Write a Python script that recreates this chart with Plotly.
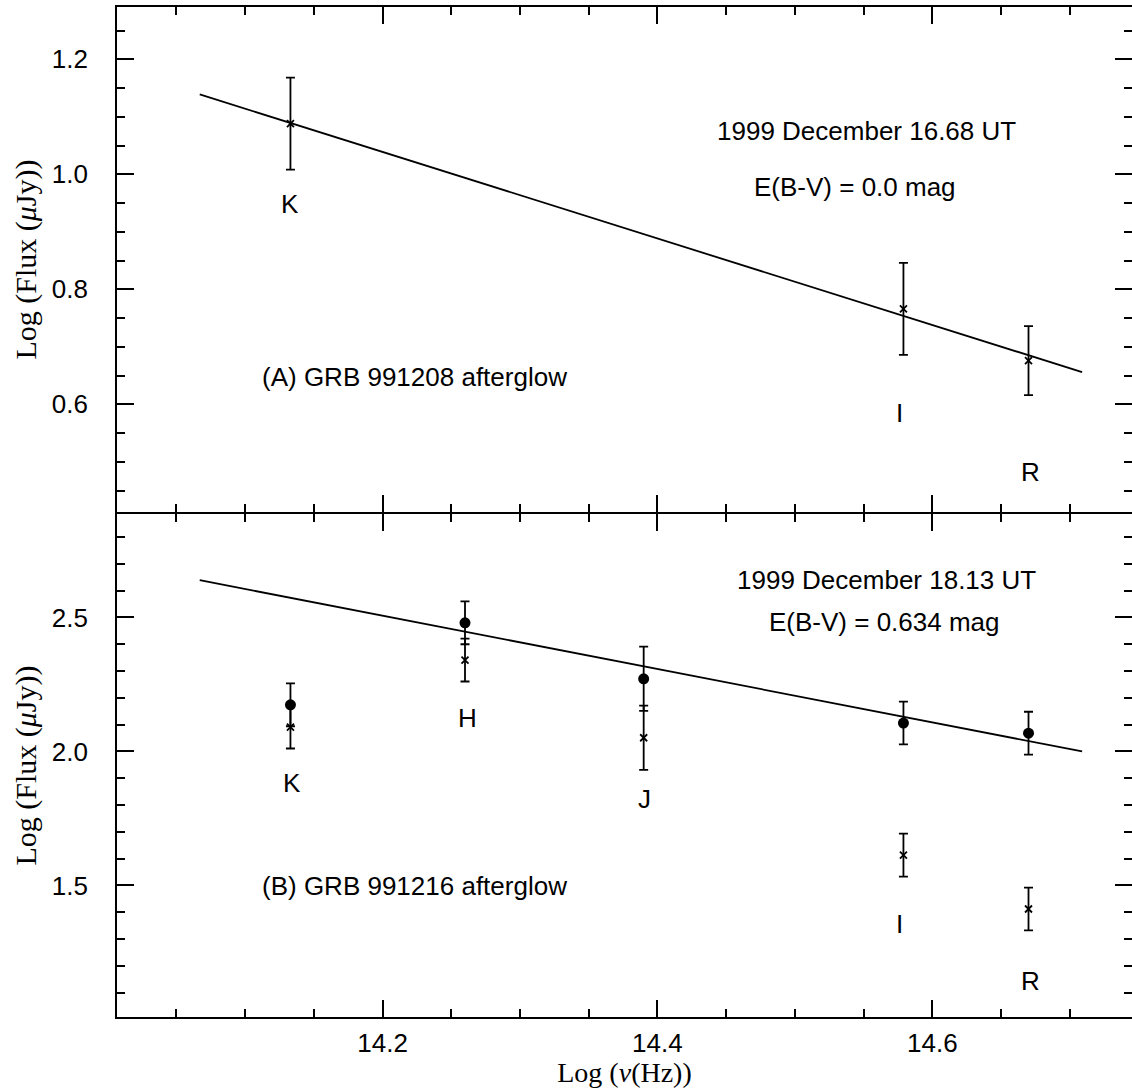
import plotly.graph_objects as go

# ---------------- data ----------------
# Panel A : GRB 991208 afterglow (1999 Dec 16.68 UT)
bands_A = ["K", "I", "R"]
lognu_A = [14.133, 14.579, 14.670]
flux_A = [1.088, 0.766, 0.676]
err_A = [0.08, 0.08, 0.06]
fitA_x = [14.067, 14.709]
fitA_y = [1.139, 0.656]

# Panel B : GRB 991216 afterglow (1999 Dec 18.13 UT)
bands_B = ["K", "H", "J", "I", "R"]
lognu_B = [14.133, 14.260, 14.390, 14.579, 14.670]
flux_B_dered = [2.174, 2.480, 2.271, 2.106, 2.068]   # filled circles
err_B_dered = [0.08, 0.08, 0.12, 0.08, 0.08]
flux_B_obs = [2.091, 2.341, 2.051, 1.613, 1.412]     # crosses
err_B_obs = [0.08, 0.08, 0.12, 0.08, 0.08]
fitB_x = [14.067, 14.709]
fitB_y = [2.639, 2.000]

# band-label positions (text placement)
labA_x = [14.1327, 14.5758, 14.6718]
labA_y = [0.948, 0.585, 0.482]
labB_x = [14.1342, 14.2615, 14.3903, 14.5758, 14.6718]
labB_y = [1.8825, 2.125, 1.8228, 1.3563, 1.1437]

x_range = [14.0068, 14.7453]
yA_range = [0.4127, 1.291]
yB_range = [1.009, 2.886]

SANS = "Liberation Sans, Arial, Helvetica, sans-serif"
SERIF = "Liberation Serif, Times New Roman, serif"
BLK = "black"
LW = 1.8
B_TOP = 503 / 1010      # panel B domain top
A_BOT = 505 / 1010      # panel A domain bottom (axis lines meet on one pixel row)

fig = go.Figure()

def errbar(arr):
    return dict(type="data", array=arr, visible=True, color=BLK, thickness=LW, width=4.5)

# Panel A
fig.add_trace(go.Scatter(x=fitA_x, y=fitA_y, mode="lines", line=dict(color=BLK, width=LW),
                         xaxis="x2", yaxis="y2", showlegend=False))
fig.add_trace(go.Scatter(x=lognu_A, y=flux_A, mode="markers", error_y=errbar(err_A),
                         marker=dict(symbol="x-thin", size=7, line=dict(color=BLK, width=1.8), color=BLK),
                         xaxis="x2", yaxis="y2", showlegend=False))

# Panel B
fig.add_trace(go.Scatter(x=fitB_x, y=fitB_y, mode="lines", line=dict(color=BLK, width=LW),
                         xaxis="x", yaxis="y", showlegend=False))
fig.add_trace(go.Scatter(x=lognu_B, y=flux_B_obs, mode="markers", error_y=errbar(err_B_obs),
                         marker=dict(symbol="x-thin", size=7, line=dict(color=BLK, width=1.8), color=BLK),
                         xaxis="x", yaxis="y", showlegend=False))
fig.add_trace(go.Scatter(x=lognu_B, y=flux_B_dered, mode="markers", error_y=errbar(err_B_dered),
                         marker=dict(symbol="circle", size=11, color=BLK),
                         xaxis="x", yaxis="y", showlegend=False))

annots = []
def txt(x, y, s, xref, yref, xanchor="center", size=26):
    annots.append(dict(x=x, y=y, xref=xref, yref=yref, text=s, showarrow=False,
                       xanchor=xanchor, yanchor="middle",
                       font=dict(family=SANS, size=size, color=BLK)))

for b, x, y in zip(bands_A, labA_x, labA_y):
    txt(x, y, b, "x2", "y2")
for b, x, y in zip(bands_B, labB_x, labB_y):
    txt(x, y, b, "x", "y")

txt(14.5518, 1.0753, "1999 December 16.68 UT", "x2", "y2")
txt(14.5438, 0.978, "E(B-V) = 0.0 mag", "x2", "y2")
txt(14.1109, 0.6475, "(A) GRB 991208 afterglow", "x2", "y2", xanchor="left")

txt(14.567, 2.640, "1999 December 18.13 UT", "x", "y")
txt(14.5655, 2.483, "E(B-V) = 0.634 mag", "x", "y")
txt(14.1109, 1.498, "(B) GRB 991216 afterglow", "x", "y", xanchor="left")

common_x = dict(range=x_range, ticks="inside", mirror="ticks", showline=True, linecolor=BLK,
                linewidth=LW, tick0=14.0, dtick=0.2, ticklen=17, tickwidth=LW, tickcolor=BLK,
                minor=dict(ticks="inside", tick0=14.0, dtick=0.05, ticklen=8, tickwidth=LW, tickcolor=BLK),
                showgrid=False, zeroline=False, automargin=False,
                tickfont=dict(family=SANS, size=26, color=BLK), tickformat=".1f")

common_y = dict(ticks="inside", mirror="ticks", showline=True, linecolor=BLK, linewidth=LW,
                tick0=0, ticklen=17, tickwidth=LW, tickcolor=BLK, showgrid=False, zeroline=False,
                automargin=False, tickfont=dict(family=SANS, size=26, color=BLK), tickformat=".1f",
                ticklabelstandoff=22)

ytitle = dict(text="Log (Flux (<i>μ</i>Jy))", font=dict(family=SERIF, size=30, color=BLK), standoff=6)

fig.update_layout(
    width=1132, height=1088, autosize=False,
    margin=dict(l=117, r=0, t=7, b=71),
    paper_bgcolor="white", plot_bgcolor="white",
    showlegend=False,
    xaxis=dict(common_x, domain=[0, 1], anchor="y", ticklabelstandoff=2,
               title=dict(text="Log (<i>ν</i>(Hz))", font=dict(family=SERIF, size=28, color=BLK), standoff=7)),
    xaxis2=dict(common_x, domain=[0, 1], anchor="y2", matches="x", showticklabels=False),
    yaxis=dict(common_y, domain=[0, B_TOP], anchor="x", range=yB_range, dtick=0.5,
               minor=dict(ticks="inside", tick0=0, dtick=0.1, ticklen=8, tickwidth=LW, tickcolor=BLK),
               title=ytitle),
    yaxis2=dict(common_y, domain=[A_BOT, 1], anchor="x2", range=yA_range, dtick=0.2,
                minor=dict(ticks="inside", tick0=0, dtick=0.05, ticklen=8, tickwidth=LW, tickcolor=BLK),
                title=ytitle),
    annotations=annots,
)

fig.write_html("out.html", config={"displayModeBar": False},
               post_script="document.body.style.margin='0px';document.body.style.overflow='hidden';")
